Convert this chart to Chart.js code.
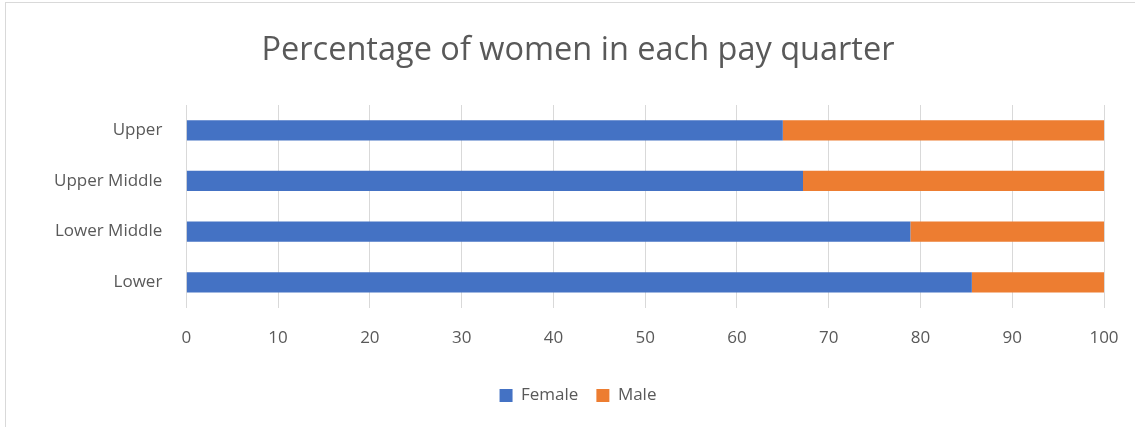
<!DOCTYPE html>
<html>
<head>
<meta charset="utf-8">
<script src="https://cdn.jsdelivr.net/npm/chart.js@4"></script>
<style>
  body { margin: 0; background: #fff; }
  #wrap { position: absolute; left: 5px; top: 2px; width: 1140px; height: 440px; border: 1px solid #d9d9d9; box-sizing: border-box; }
  #holder { position: absolute; left: 0; top: 0; width: 1135px; height: 427px; }
</style>
</head>
<body>
<div id="wrap"></div>
<div id="holder"><canvas id="payChart" width="1135" height="427"></canvas></div>
<script>
// pay quarters, top to bottom
const quarters = ['Upper', 'Upper Middle', 'Lower Middle', 'Lower'];
const femalePct = [65.0, 67.2, 78.9, 85.6];
const malePct = [35.0, 32.8, 21.1, 14.4];
const xTicks = [0, 10, 20, 30, 40, 50, 60, 70, 80, 90, 100];

const textColor = '#595959';

const ctx = document.getElementById('payChart').getContext('2d');
new Chart(ctx, {
  type: 'bar',
  data: {
    labels: quarters,
    datasets: [
      { label: 'Female', data: femalePct, backgroundColor: '#4472C4', barPercentage: 0.4, categoryPercentage: 1 },
      { label: 'Male', data: malePct, backgroundColor: '#ED7D31', barPercentage: 0.4, categoryPercentage: 1 }
    ]
  },
  options: {
    indexAxis: 'y',
    responsive: false,
    animation: false,
    layout: { padding: { left: 52, right: 31, top: 18, bottom: 13 } },
    plugins: {
      title: {
        display: true,
        text: 'Percentage of women in each pay quarter',
        color: textColor,
        font: { family: 'Open Sans', size: 32.5, weight: 'normal' },
        padding: { top: 13, bottom: 35 }
      },
      legend: {
        position: 'bottom',
        labels: {
          color: textColor,
          font: { family: 'Open Sans', size: 17 },
          boxWidth: 13, boxHeight: 13, padding: 18
        }
      },
      tooltip: { enabled: false }
    },
    scales: {
      x: {
        stacked: true,
        min: 0, max: 100,
        afterBuildTicks: axis => { axis.ticks = xTicks.map(v => ({ value: v })); },
        afterFit: axis => { axis.height += 1; axis.paddingRight = 0; },
        grid: { color: '#d9d9d9', lineWidth: 1, drawTicks: false },
        border: { display: false },
        ticks: { color: textColor, font: { family: 'Open Sans', size: 17 }, padding: 20, maxRotation: 0 }
      },
      y: {
        stacked: true,
        afterFit: axis => { axis.width -= 22; },
        grid: { display: false, drawTicks: false },
        border: { display: false },
        ticks: { color: textColor, font: { family: 'Open Sans', size: 17 }, padding: 24 }
      }
    }
  }
});
</script>
</body>
</html>
